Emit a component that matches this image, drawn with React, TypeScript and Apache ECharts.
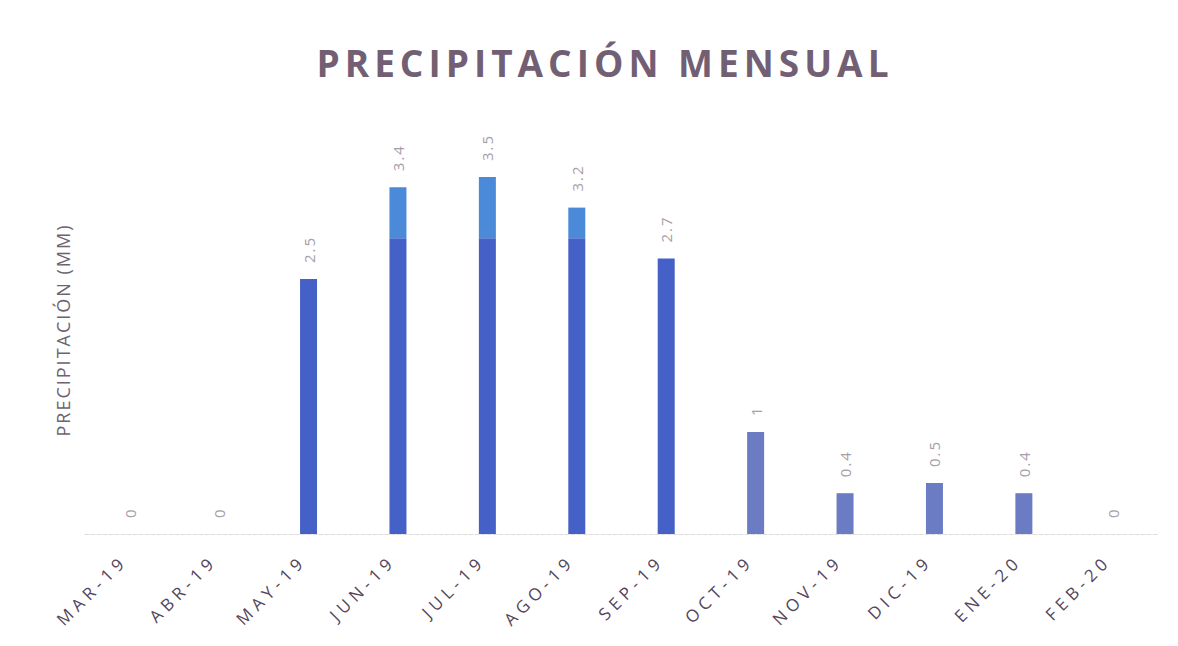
import React, { useEffect, useRef } from "react";
import * as echarts from "echarts";

// Monthly precipitation, March 2019 – February 2020
const months = [
  "MAR-19", "ABR-19", "MAY-19", "JUN-19", "JUL-19", "AGO-19",
  "SEP-19", "OCT-19", "NOV-19", "DIC-19", "ENE-20", "FEB-20",
];
const precip = [0, 0, 2.5, 3.4, 3.5, 3.2, 2.7, 1, 0.4, 0.5, 0.4, 0];

// Bars up to this index use the deeper blue fill
const lastDeepIndex = 6;
// Value above which the deep bars switch to a lighter shade
const shadeSplit = 2.9;

const titleText = "PRECIPITACIÓN MENSUAL";
const yAxisTitle = "PRECIPITACIÓN (MM)";

const DEEP = "#4560c6";
const DEEP_TOP = "#4b8ad9";
const SOFT = "#6b7cc4";
const LABEL_GREY = "#a69eaa";

export default function App() {
  const ref = useRef<HTMLDivElement>(null);

  useEffect(() => {
    if (!ref.current) return;
    const chart = echarts.init(ref.current, undefined, { renderer: "svg" });

    const valueLabel = {
      show: true,
      position: "top",
      rotate: 90,
      align: "left",
      verticalAlign: "middle",
      distance: 16,
      color: LABEL_GREY,
      fontSize: 15,
      fontFamily: "Open Sans",
      formatter: (p: any) => String(precip[p.dataIndex]),
    };

    const lower = precip.map((v, i) => {
      const deep = i <= lastDeepIndex;
      const splits = deep && v > shadeSplit;
      return {
        value: deep ? Math.min(v, shadeSplit) : v,
        itemStyle: { color: deep ? DEEP : SOFT },
        label: { show: !splits },
      };
    });
    const upper = precip.map((v, i) => {
      const splits = i <= lastDeepIndex && v > shadeSplit;
      return splits
        ? { value: v - shadeSplit, itemStyle: { color: DEEP_TOP }, label: { show: true } }
        : { value: "-", label: { show: false } };
    });

    chart.setOption({
      animation: false,
      backgroundColor: "#ffffff",
      title: {
        text: titleText,
        left: 592,
        textAlign: "center",
        top: 31,
        textStyle: {
          fontFamily: "Open Sans",
          fontWeight: "bold",
          fontSize: 37,
          color: "#735f74",
        },
      },
      grid: { left: 77, right: 12, top: 118, bottom: 104 },
      xAxis: {
        type: "category",
        data: months,
        axisLine: { lineStyle: { color: "#dcdcdc", type: "dashed" } },
        axisTick: { show: false },
        axisLabel: {
          rotate: 45,
          margin: 18,
          padding: [0, 8, 0, 0],
          color: "#54455a",
          fontSize: 17,
          fontFamily: "Open Sans",
        },
      },
      yAxis: {
        type: "value",
        min: 0,
        max: 4,
        name: yAxisTitle,
        nameLocation: "middle",
        nameRotate: 90,
        nameGap: 13,
        nameTextStyle: { color: "#6e6470", fontSize: 18, fontFamily: "Open Sans" },
        axisLine: { show: false },
        axisTick: { show: false },
        axisLabel: { show: false },
        splitLine: { show: false },
      },
      series: [
        {
          type: "bar",
          stack: "p",
          barWidth: 17,
          data: lower,
          label: valueLabel,
        },
        {
          type: "bar",
          stack: "p",
          barWidth: 17,
          data: upper,
          label: valueLabel,
        },
      ],
    });

    // Spread the letters of the title and axis texts
    const spacing: Record<string, string> = { [titleText]: "5px", [yAxisTitle]: "2px" };
    months.forEach((m) => (spacing[m] = "5px"));
    const applySpacing = () => {
      const texts = ref.current?.querySelectorAll("text") ?? [];
      texts.forEach((t) => {
        const s = spacing[(t.textContent || "").trim()];
        (t as SVGTextElement).style.letterSpacing = s || "2px";
      });
    };
    chart.on("finished", applySpacing);
    const raf = requestAnimationFrame(applySpacing);

    return () => {
      cancelAnimationFrame(raf);
      chart.dispose();
    };
  }, []);

  return <div ref={ref} style={{ width: 1162, height: 630 }} />;
}
